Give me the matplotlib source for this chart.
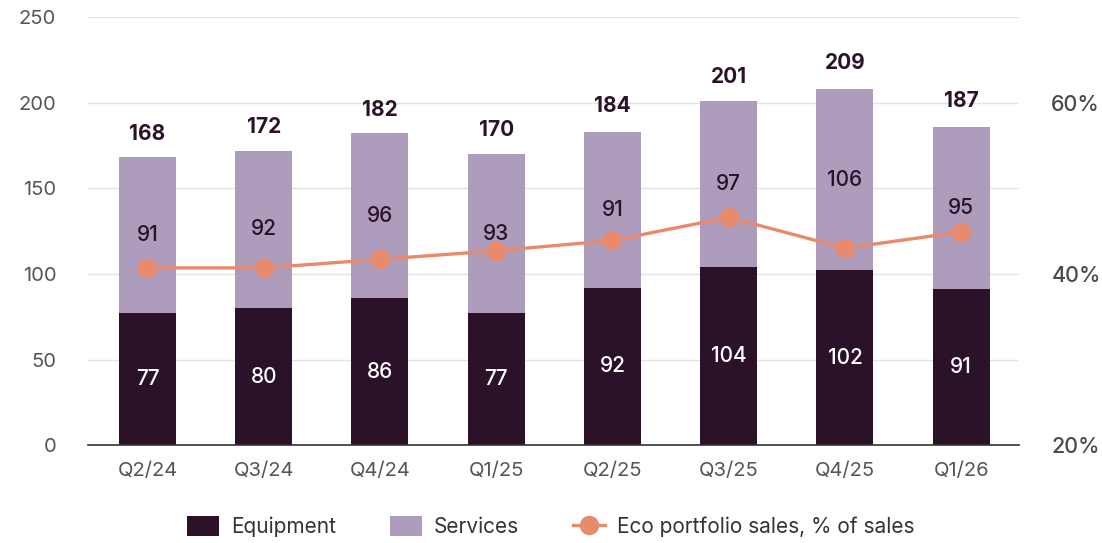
import matplotlib.pyplot as plt
from matplotlib.ticker import FuncFormatter

plt.rcParams['font.family'] = ['Inter', 'DejaVu Sans']

quarters = ["Q2/24", "Q3/24", "Q4/24", "Q1/25", "Q2/25", "Q3/25", "Q4/25", "Q1/26"]
equipment = [77, 80, 86, 77, 92, 104, 102, 91]
services = [91, 92, 96, 93, 91, 97, 106, 95]
totals = [168, 172, 182, 170, 184, 201, 209, 187]
eco_pct = [40.7, 40.7, 41.7, 42.7, 43.9, 46.6, 43.0, 44.9]

c_equip = "#2b1228"
c_serv = "#ae9cbd"
c_line = "#e88a6d"
c_tick = "#555555"

fig = plt.figure(figsize=(11.02, 5.43), dpi=100)
ax = fig.add_axes([0.08, 0.18, 0.845, 0.789])
x = list(range(len(quarters)))

ax.bar(x, equipment, width=0.49, color=c_equip, zorder=2, label="Equipment")
ax.bar(x, services, width=0.49, bottom=equipment, color=c_serv, zorder=2, label="Services")

for i in x:
    ax.text(i, equipment[i] / 2, str(equipment[i]), ha="center", va="center",
            color="white", fontsize=15, fontweight="medium", zorder=4)
    ax.text(i, equipment[i] + services[i] / 2, str(services[i]), ha="center", va="center",
            color=c_equip, fontsize=15, fontweight="medium", zorder=4)
    ax.text(i, totals[i] + 8, str(totals[i]), ha="center", va="bottom",
            color=c_equip, fontsize=15, fontweight="bold", zorder=4)

ax.set_xlim(-0.51, 7.5)
ax.set_ylim(0, 250)
ax.set_yticks(range(0, 251, 50))
ax.set_xticks(x)
ax.set_xticklabels(quarters)
ax.grid(axis="y", color="#e3e3e3", linewidth=1, zorder=0)
ax.tick_params(axis="both", length=0, labelsize=14.5, labelcolor=c_tick)
ax.tick_params(axis="x", pad=12)
ax.tick_params(axis="y", pad=23)
for s in ["top", "right", "left"]:
    ax.spines[s].set_visible(False)
ax.spines["bottom"].set_color("#333333")
ax.spines["bottom"].set_linewidth(1.2)
ax.spines["bottom"].set_zorder(3)

ax2 = ax.twinx()
ax2.set_ylim(20, 70)
ax2.set_yticks([20, 40, 60])
ax2.yaxis.set_major_formatter(FuncFormatter(lambda v, p: f"{v:.0f}%"))
ax2.tick_params(axis="y", length=0, labelsize=15.5, labelcolor="#4a4a4a", pad=23)
for lbl in ax2.get_yticklabels():
    lbl.set_fontweight("medium")
for s in ax2.spines.values():
    s.set_visible(False)
ax2.plot(x, eco_pct, color=c_line, linewidth=2.4, marker="o", markersize=13,
         zorder=3, label="Eco portfolio sales, % of sales")

h1, l1 = ax.get_legend_handles_labels()
h2, l2 = ax2.get_legend_handles_labels()
fig.legend(h1 + h2, l1 + l2, loc="center", bbox_to_anchor=(0.5, 0.03), ncol=3,
           frameon=False, fontsize=15, handlelength=1.5, handleheight=1.1,
           handletextpad=0.6, columnspacing=2.6, labelcolor="#333333")

fig.savefig("out.png", dpi=100)
